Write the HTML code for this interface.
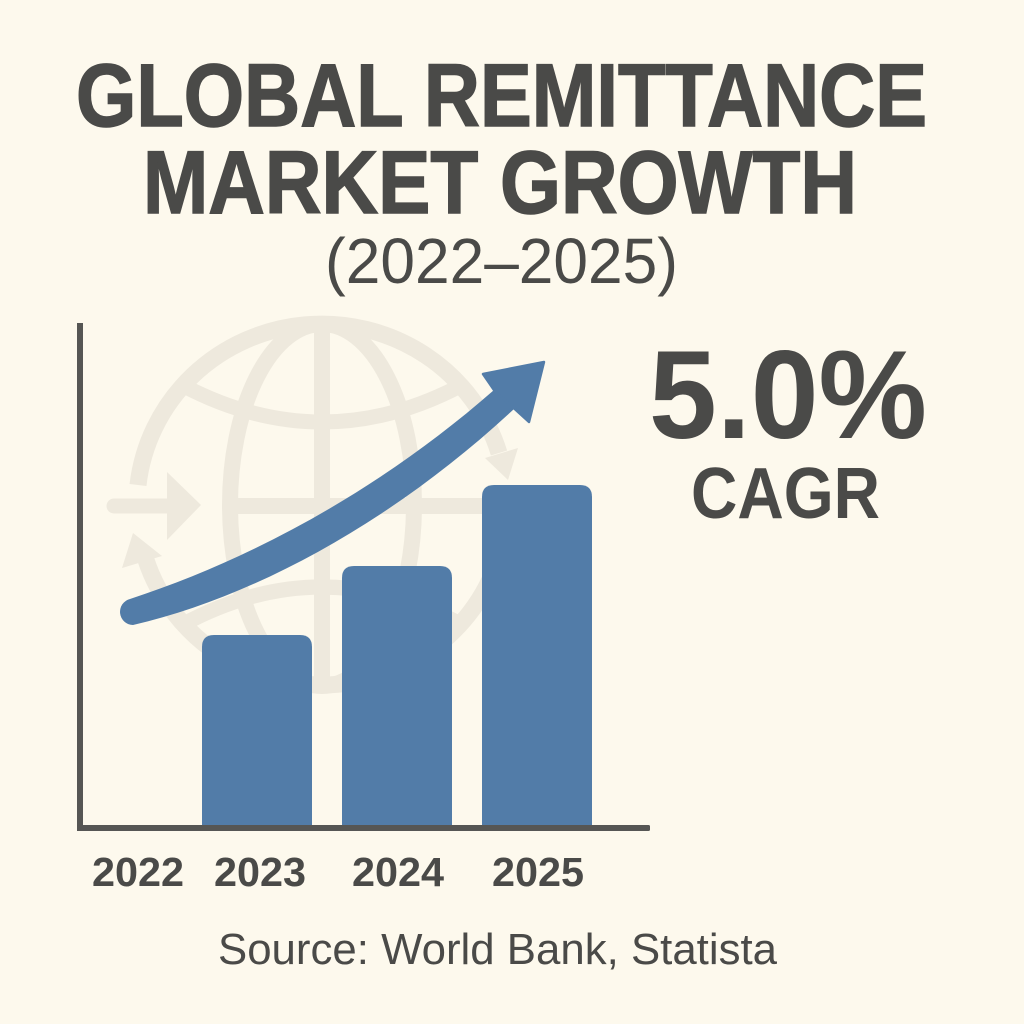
<!DOCTYPE html>
<html lang="en">
<head>
<meta charset="utf-8">
<title>Global Remittance Market Growth (2022–2025)</title>
<style>
html,body{margin:0;padding:0;background:#fdf9ed;}
svg{display:block;}
text{font-family:"Liberation Sans",sans-serif;fill:#4a4a48;}
</style>
</head>
<body>
<svg id="chart" width="1024" height="1024" viewBox="0 0 1024 1024" xmlns="http://www.w3.org/2000/svg">
  <rect width="1024" height="1024" fill="#fdf9ed"/>

  <text x="76" y="126" font-size="89" font-weight="700" textLength="851" lengthAdjust="spacingAndGlyphs" stroke="#4a4a48" stroke-width="1.5">GLOBAL REMITTANCE</text>
  <text x="143" y="213" font-size="89" font-weight="700" textLength="714" lengthAdjust="spacingAndGlyphs" stroke="#4a4a48" stroke-width="1.5">MARKET GROWTH</text>
  <text x="325" y="283" font-size="64" textLength="353" lengthAdjust="spacingAndGlyphs">(2022–2025)</text>

  <g fill="none" stroke="#eee9dd" stroke-width="17">
    <path d="M138 485 A185 181 0 0 1 499 453"/>
    <path d="M146 560 A185 181 0 0 0 505 530"/>
    <ellipse cx="322" cy="505" rx="92" ry="181" stroke-width="16"/>
    <path d="M322 324V686" stroke-width="16"/>
    <path d="M230 506H490" stroke-width="16"/>
    <path d="M182 385Q322 459 462 385" stroke-width="15"/>
    <path d="M182 625Q322 549 462 625" stroke-width="15"/>
    <path d="M114 506H170" stroke-linecap="round" stroke-width="15"/>
    <path d="M167 472L201 505L167 540Z" fill="#eee9dd" stroke="none"/>
    <path d="M133 533L122 568L162 556Z" fill="#eee9dd" stroke="none"/>
    <path d="M508 480L485 458L518 448Z" fill="#eee9dd" stroke="none"/>
  </g>

  <g id="bars"></g>

  <path d="M130 599C250 560 380 490 494 390L514 409C395 520 255 597 133 625A13.2 13.2 0 0 1 130 599Z" fill="#527ca8"/>
  <path d="M483 374L544 362L529 422L494 390Z" fill="#527ca8" stroke="#527ca8" stroke-width="2.5" stroke-linejoin="round"/>

  <rect x="77" y="323" width="6" height="508" fill="#565654"/>
  <rect x="77" y="825" width="573" height="6" rx="1.5" fill="#565654"/>

  <g id="ticks"></g>

  <text x="649" y="438" font-size="125" font-weight="700" textLength="278" lengthAdjust="spacingAndGlyphs">5.0%</text>
  <text x="691" y="518" font-size="72" font-weight="700" textLength="189" lengthAdjust="spacingAndGlyphs">CAGR</text>
  <text x="218" y="964" font-size="44" textLength="559" lengthAdjust="spacingAndGlyphs">Source: World Bank, Statista</text>
</svg>
<script>
const categories = ['2022', '2023', '2024', '2025'];
const seriesValues = [null, 1.91, 2.6, 3.41];
const yDomainMax = 5;

const SVG_NS = 'http://www.w3.org/2000/svg';
const baseline = 826;
const plotTop = 326;
const firstBandCenter = 117;
const bandStep = 140;
const barWidth = 110;

function xScale(i) {
  return firstBandCenter + i * bandStep;
}
function yScale(v) {
  return baseline - (v / yDomainMax) * (baseline - plotTop);
}
function labelX(i) {
  // The printed labels sit slightly off the band centres at the left end.
  return xScale(i) + (i === 0 ? 21 : i === 1 ? 3 : 1);
}

const barsGroup = document.getElementById('bars');
seriesValues.forEach(function (value, i) {
  if (value === null) return;
  const top = yScale(value);
  const x = xScale(i) - barWidth / 2;
  const r = 12;
  const bar = document.createElementNS(SVG_NS, 'path');
  bar.setAttribute('d',
    'M' + x + ' ' + baseline +
    'V' + (top + r) +
    'Q' + x + ' ' + top + ' ' + (x + r) + ' ' + top +
    'H' + (x + barWidth - r) +
    'Q' + (x + barWidth) + ' ' + top + ' ' + (x + barWidth) + ' ' + (top + r) +
    'V' + baseline + 'Z');
  bar.setAttribute('fill', '#527ca8');
  
  
  barsGroup.appendChild(bar);
});

const ticksGroup = document.getElementById('ticks');
categories.forEach(function (label, i) {
  const t = document.createElementNS(SVG_NS, 'text');
  t.setAttribute('x', labelX(i));
  t.setAttribute('y', 886);
  t.setAttribute('text-anchor', 'middle');
  t.setAttribute('font-size', '41');
  t.setAttribute('font-weight', '700');
  t.setAttribute('textLength', '92');
  t.setAttribute('lengthAdjust', 'spacingAndGlyphs');
  t.textContent = label;
  
  
  ticksGroup.appendChild(t);
});
</script>
</body>
</html>
